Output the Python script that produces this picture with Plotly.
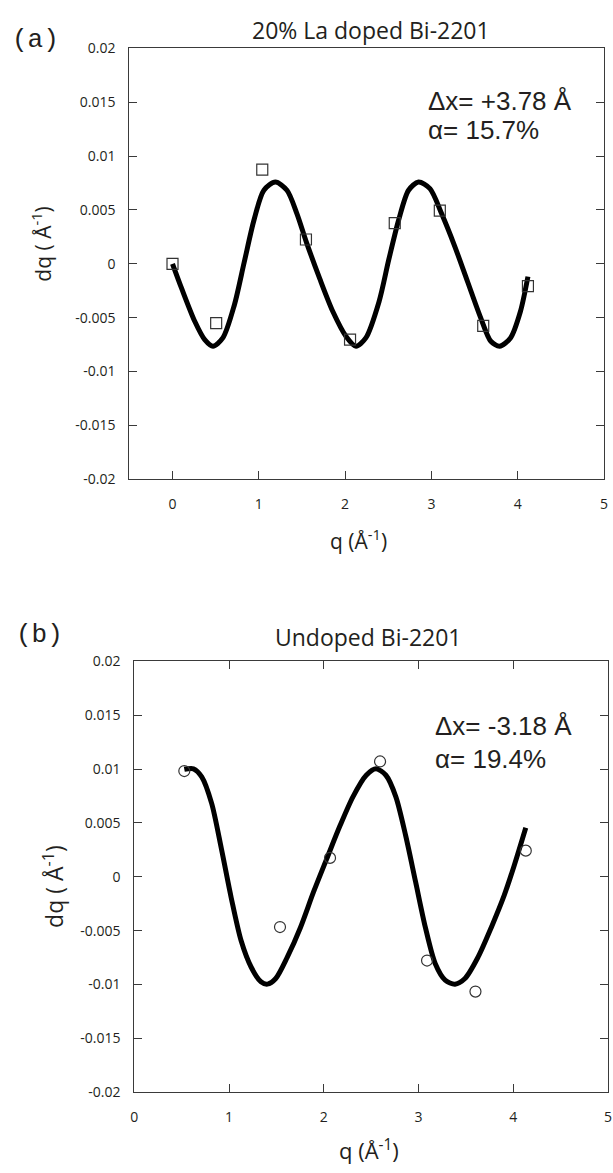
import plotly.graph_objects as go

W, H = 613, 1173

# ---------- data: panel (a) 20% La doped ----------
qa_pts = [0.0, 0.506, 1.04, 1.546, 2.057, 2.575, 3.097, 3.60, 4.118]
dqa_pts = [0.0, -0.0055, 0.00875, 0.00226, -0.00704, 0.00378, 0.00494, -0.00576, -0.00207]

qa_fit = [0.0, 0.107, 0.259, 0.373, 0.469, 0.583, 0.716, 0.83, 0.945, 1.059, 1.192, 1.326,
          1.44, 1.554, 1.707, 1.859, 2.011, 2.126, 2.24, 2.392, 2.507, 2.621, 2.735, 2.85,
          2.983, 3.116, 3.269, 3.421, 3.573, 3.688, 3.79, 3.916, 4.03, 4.118]
dqa_fit = [0.0, -0.00231, -0.00536, -0.00704, -0.00765, -0.00688, -0.00384, 0.00012, 0.00409,
           0.00683, 0.00759, 0.00683, 0.00469, 0.00195, -0.0014, -0.00445, -0.00674, -0.00765,
           -0.00688, -0.00354, 0.00043, 0.00409, 0.00683, 0.00759, 0.00698, 0.00469, 0.00165,
           -0.00171, -0.00506, -0.00719, -0.00765, -0.00688, -0.00445, -0.00119]

# ---------- data: panel (b) undoped ----------
qb_pts = [0.528, 1.538, 2.066, 2.594, 3.09, 3.601, 4.132]
dqb_pts = [0.00981, -0.00467, 0.00175, 0.0107, -0.00778, -0.01066, 0.00242]

qb_fit = [0.528, 0.625, 0.712, 0.816, 0.92, 1.024, 1.128, 1.233, 1.337, 1.406, 1.493, 1.615,
          1.753, 1.893, 2.031, 2.17, 2.309, 2.448, 2.552, 2.656, 2.76, 2.865, 2.969, 3.073,
          3.177, 3.281, 3.385, 3.49, 3.628, 3.767, 3.906, 4.01, 4.132]
dqb_fit = [0.00997, 0.01002, 0.00927, 0.00683, 0.00257, -0.00199, -0.00595, -0.00838, -0.00975,
           -0.00997, -0.00945, -0.00747, -0.00473, -0.00139, 0.00166, 0.0047, 0.00744, 0.00942,
           0.01002, 0.00942, 0.00744, 0.00379, -0.00047, -0.00473, -0.00808, -0.0096, -0.00997,
           -0.00945, -0.00747, -0.00473, -0.00169, 0.00105, 0.00455]

x_tickvals = [0, 1, 2, 3, 4, 5]
x_ticktext = ["0", "1", "2", "3", "4", "5"]
y_tickvals = [0.02, 0.015, 0.01, 0.005, 0, -0.005, -0.01, -0.015, -0.02]
y_ticktext = ["0.02", "0.015", "0.01", "0.005", "0", "-0.005", "-0.01", "-0.015", "-0.02"]

TXT = "#231f20"
AX = "#3a3a3a"
SANS = "Open Sans"


def xd(l, r):
    return [l / W, r / W]


def yd(top, bottom):
    return [1 - bottom / H, 1 - top / H]


fig = go.Figure()

fig.add_trace(go.Scatter(x=qa_fit, y=dqa_fit, mode="lines", line=dict(color="black", width=5, shape="spline", smoothing=0.8),
                         xaxis="x", yaxis="y", showlegend=False, hoverinfo="skip"))
fig.add_trace(go.Scatter(x=qa_pts, y=dqa_pts, mode="markers",
                         marker=dict(symbol="square-open", size=11, color="#333333", line=dict(width=1.2)),
                         xaxis="x", yaxis="y", showlegend=False))
fig.add_trace(go.Scatter(x=qb_fit, y=dqb_fit, mode="lines", line=dict(color="black", width=5, shape="spline", smoothing=0.8),
                         xaxis="x2", yaxis="y2", showlegend=False, hoverinfo="skip"))
fig.add_trace(go.Scatter(x=qb_pts, y=dqb_pts, mode="markers",
                         marker=dict(symbol="circle-open", size=11, color="#333333", line=dict(width=1.2)),
                         xaxis="x2", yaxis="y2", showlegend=False))

tickfont = dict(family=SANS, size=14, color=TXT)
common_x = dict(tickvals=x_tickvals, ticktext=x_ticktext, ticks="inside", ticklen=8, tickcolor=AX,
                showline=True, linecolor=AX, linewidth=1, showgrid=False, zeroline=False,
                tickfont=tickfont, ticklabelstandoff=12)
common_y = dict(tickvals=y_tickvals, ticktext=y_ticktext, ticks="inside", ticklen=8, tickcolor=AX,
                showline=True, linecolor=AX, linewidth=1, showgrid=False, zeroline=False,
                tickfont=tickfont, range=[-0.02, 0.02], mirror="ticks", ticklabelstandoff=10)

fig.update_layout(
    width=W, height=H, margin=dict(l=0, r=0, t=0, b=0),
    paper_bgcolor="white", plot_bgcolor="white",
    xaxis=dict(domain=xd(127, 608), range=[-0.5, 5], anchor="y", mirror=True, **common_x),
    yaxis=dict(domain=yd(39, 477), anchor="x", **common_y),
    xaxis2=dict(domain=xd(132, 612), range=[0, 5], anchor="y2", mirror="ticks", **common_x),
    yaxis2=dict(domain=yd(662, 1100), anchor="x2", **common_y),
)

anns = []


def ann(text, x, y, size, family=SANS, xanchor="center", angle=0):
    anns.append(dict(text=text, x=x / W, y=1 - y / H, xref="paper", yref="paper", showarrow=False,
                     xanchor=xanchor, yanchor="middle", textangle=angle,
                     font=dict(family=family, size=size, color=TXT)))


# panel labels
ann("(a)", 6, 30, 26, family="Liberation Mono", xanchor="left")
ann("(b)", 10, 635, 26, family="Liberation Mono", xanchor="left")
# titles
ann("20% La doped Bi-2201", 372, 20, 23)
ann("Undoped Bi-2201", 369, 637, 23)
# axis titles
ann("q (Å<sup>-1</sup>)", 359, 538, 21)
ann("q (Å<sup>-1</sup>)", 370, 1158, 22)
ann("dq ( Å<sup>-1</sup>)", 38, 238, 21, angle=-90)
ann("dq ( Å<sup>-1</sup>)", 50, 891, 23, angle=-90)
# fit parameters
ann("Δx= +3.78 Å", 428, 93, 26, family="Liberation Sans", xanchor="left")
ann("α= 15.7%", 428, 122, 26, family="Liberation Sans", xanchor="left")
ann("Δx= -3.18 Å", 435, 728, 26, family="Liberation Sans", xanchor="left")
ann("α= 19.4%", 435, 761, 26, family="Liberation Sans", xanchor="left")

fig.update_layout(annotations=anns)

fig.write_html("out.html")
